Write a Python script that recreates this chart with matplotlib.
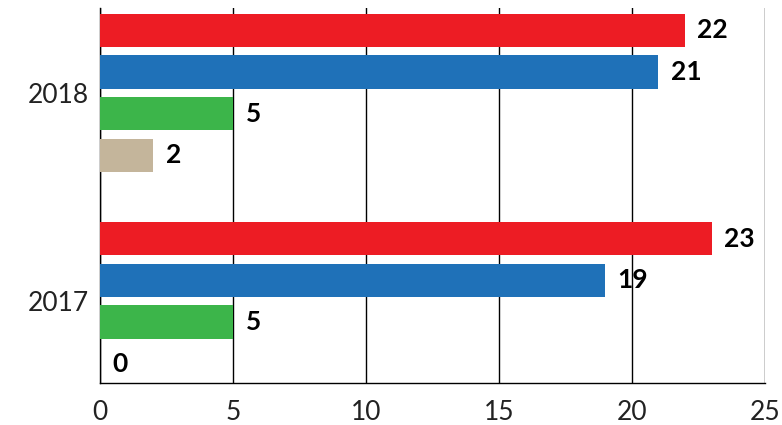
import numpy as np
import matplotlib
matplotlib.use("Agg")
from matplotlib import pyplot as plt

# data
years = ["2018", "2017"]
series_colors = ["#ED1C24", "#1F71B8", "#3CB54A", "#C4B59B"]
values_2018 = [22, 21, 5, 2]
values_2017 = [23, 19, 5, 0]
x_ticks = [0, 5, 10, 15, 20, 25]

def main():
	fig = plt.figure(figsize=(7.82, 4.25), dpi=100)
	ax = fig.add_axes([0.1279, 0.0988, 0.850, 0.882])

	groups = [values_2018, values_2017]
	n = len(series_colors)
	centers = []
	for g, vals in enumerate(groups):
		pos = np.arange(n) + g * (n + 1)
		centers.append(pos.mean())
		ax.barh(pos, vals, height=0.80, color=series_colors, zorder=3)
		for p, v in zip(pos, vals):
			ax.annotate(str(v), xy=(v, p), xytext=(9, 0), textcoords="offset points",
						ha="left", va="center", fontsize=19, fontweight="bold",
						family=["Lato", "DejaVu Sans"], color="black")

	ax.set_ylim(8.46, -0.53)
	ax.set_xlim(0, 25)
	ax.set_xticks(x_ticks)
	ax.set_yticks(centers)
	ax.set_yticklabels(years)
	ax.grid(axis="x", color="black", linewidth=1.0, zorder=0)
	ax.tick_params(length=0, labelsize=19, colors="#222222")
	ax.tick_params(axis="x", pad=12)
	ax.tick_params(axis="y", pad=8)
	for lbl in ax.get_xticklabels() + ax.get_yticklabels():
		lbl.set_family(["Lato", "DejaVu Sans"])
		lbl.set_fontweight("normal")
	for s in ["top", "right"]:
		ax.spines[s].set_visible(False)
	for s in ["left", "bottom"]:
		ax.spines[s].set_linewidth(1.0)
		ax.spines[s].set_color("black")

	fig.savefig("out.png", dpi=100)

if __name__ == '__main__':
	main()
